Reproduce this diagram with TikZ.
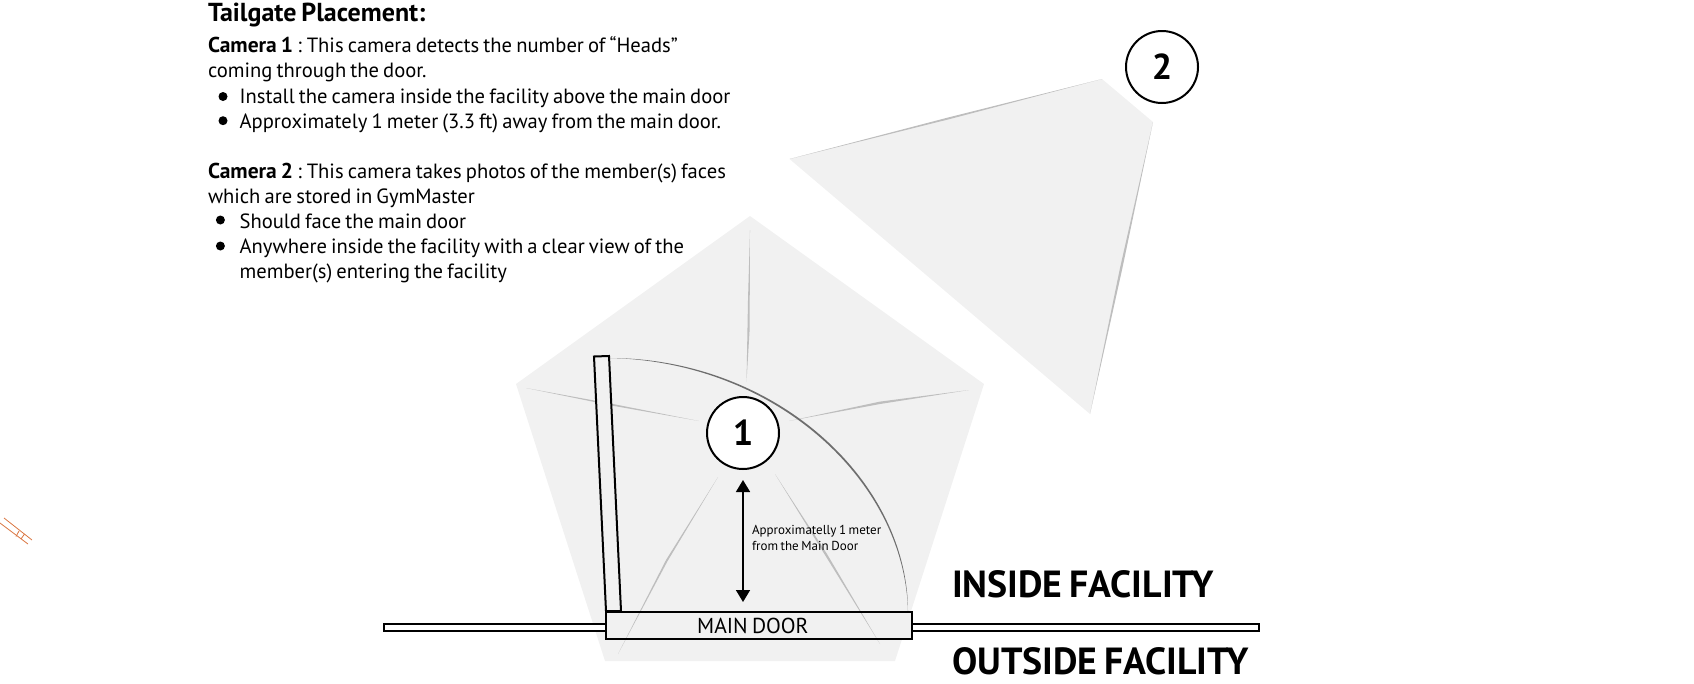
\documentclass[tikz,border=0pt]{standalone}
\usepackage{fontspec}
\setmainfont{PT Sans}[WordSpace=0.75]
\usetikzlibrary{arrows.meta}
\definecolor{zone}{HTML}{F1F1F1}
\definecolor{raycol}{HTML}{BEBEBE}
\definecolor{arccol}{HTML}{6E6E6E}
\definecolor{orangeline}{HTML}{D9743F}
\newcommand{\fsz}[1]{\fontsize{#1}{#1}\selectfont}
\newcommand{\camlabel}[1]{{\fsz{21.5}\bfseries #1}}
\tikzset{
  txt/.style={anchor=base west,inner sep=0pt,outer sep=0pt,font=\fsz{20.6}},
  small/.style={anchor=base west,inner sep=0pt,outer sep=0pt,font=\fsz{13}},
  big/.style={anchor=base west,inner sep=0pt,outer sep=0pt,font=\fsz{37.8}\bfseries},
  cam/.style={circle,draw=black,line width=2pt,fill=white,minimum size=72pt,inner sep=0pt,font=\fsz{36}\bfseries},
  dot/.style={circle,fill=black,minimum size=9pt,inner sep=0pt},
  rayfill/.style={fill=raycol},
  outline/.style={draw=black,line width=2pt,fill=zone},
  doorbox/.style={draw=black,line width=2pt},
  wall/.style={draw=black,line width=2pt,fill=white},
  tick/.style={draw=orangeline,line width=0.8pt}
}
\begin{document}
\begin{tikzpicture}[x=1pt,y=-1pt]
\useasboundingbox (0,0) rectangle (1694,683);
% coverage zones
\fill[zone] (750,216) -- (984,384) -- (895,661) -- (605,661) -- (516,384) -- cycle;
\fill[zone] (789.5,159) -- (1102,79) -- (1153,122) -- (1090,414) -- cycle;
% wall
\node[wall,minimum width=222pt,minimum height=7pt,inner sep=0pt,anchor=west] (wallL) at (383,627) {};
\node[wall,minimum width=349pt,minimum height=7pt,inner sep=0pt,anchor=east] (wallR) at (1260,627) {};
% door fill, then rays over it
\node[fill=zone,minimum width=306pt,minimum height=27pt,inner sep=0pt,anchor=north west] (doorfill) at (605,611) {};
\fill[rayfill] (750,230) -- (749.6,330) -- (746.5,382) -- (748,300) -- cycle;
\fill[rayfill] (526,388) -- (610,403.4) -- (699,421) -- (612,405.6) -- cycle;
\fill[rayfill] (969,390) -- (880,404) -- (789,421) -- (880,401.6) -- cycle;
\fill[rayfill] (718,477) -- (666,560) -- (618,654) -- (667.6,561) -- cycle;
\fill[rayfill] (775,474) -- (825,555) -- (880,644) -- (827,554) -- cycle;
\fill[rayfill] (789.5,159) -- (950,117) -- (1102,79) -- (950,119) -- cycle;
\fill[rayfill] (1153,122) -- (1122,270) -- (1090,414) -- (1120,268) -- cycle;
% door leaf
\draw[outline] (594,356.5) -- (609,356) -- (621,611) -- (606,611) -- cycle;
% swing arc
\fill[arccol] (609,358) .. controls (775,358) and (908,480) .. (908,612)
  .. controls (905.4,481) and (775,361) .. (609,358) -- cycle;
% door
\node[doorbox,minimum width=306pt,minimum height=27pt,inner sep=0pt,anchor=north west] (door) at (605,611) {};
\node[anchor=base west,inner sep=0pt,font=\fsz{21.6}] (doorlabel) at (697,633) {MAIN DOOR};
% cameras
\node[cam] (cam1) at (743,433) {1};
\node[cam] (cam2) at (1162,67) {2};
% distance arrow
\coordinate (arrowTop) at (743,480);
\coordinate (arrowBottom) at (743,602);
\draw[line width=1.6pt,{Triangle[width=14pt,length=12pt]}-{Triangle[width=14pt,length=12pt]}] (arrowTop) -- (arrowBottom);
\node[small] (dist1) at (752,534) {Approximatelly 1 meter};
\node[small] (dist2) at (752,550) {from the Main Door};
% text
\node[txt,font=\fsz{26}\bfseries] (title) at (208,21) {Tailgate Placement:};
\node[txt] (l1) at (208,52.7) {\camlabel{Camera 1} :\hspace{5pt}This camera detects the number of “Heads”};
\node[txt] (l2) at (208,77.7) {coming through the door.};
\node[txt] (l3) at (239.6,103) {Install the camera inside the facility above the main door};
\node[txt] (l4) at (239.6,128) {Approximately 1 meter (3.3 ft) away from the main door.};
\node[txt] (l5) at (208,178) {\camlabel{Camera 2} :\hspace{5pt}This camera takes photos of the member(s) faces};
\node[txt] (l6) at (208,203) {which are stored in GymMaster};
\node[txt] (l7) at (239.6,228) {Should face the main door};
\node[txt] (l8) at (239.6,253) {Anywhere inside the facility with a clear view of the};
\node[txt] (l9) at (239.6,278) {member(s) entering the facility};
\node[dot] (b1) at (223,96.5) {};
\node[dot] (b2) at (223,120.7) {};
\node[dot] (b3) at (220.4,220) {};
\node[dot] (b4) at (220.4,246) {};
\node[big] (inside) at (952,597) {INSIDE FACILITY};
\node[big] (outside) at (952,674) {OUTSIDE FACILITY};
% orange fragment
\draw[tick] (4,518) -- (32,540);
\draw[tick] (0,523) -- (28,544);
\draw[tick] (19,531) -- (16,536.5);
\draw[tick] (24.5,534) -- (21,539);
\end{tikzpicture}
\end{document}
